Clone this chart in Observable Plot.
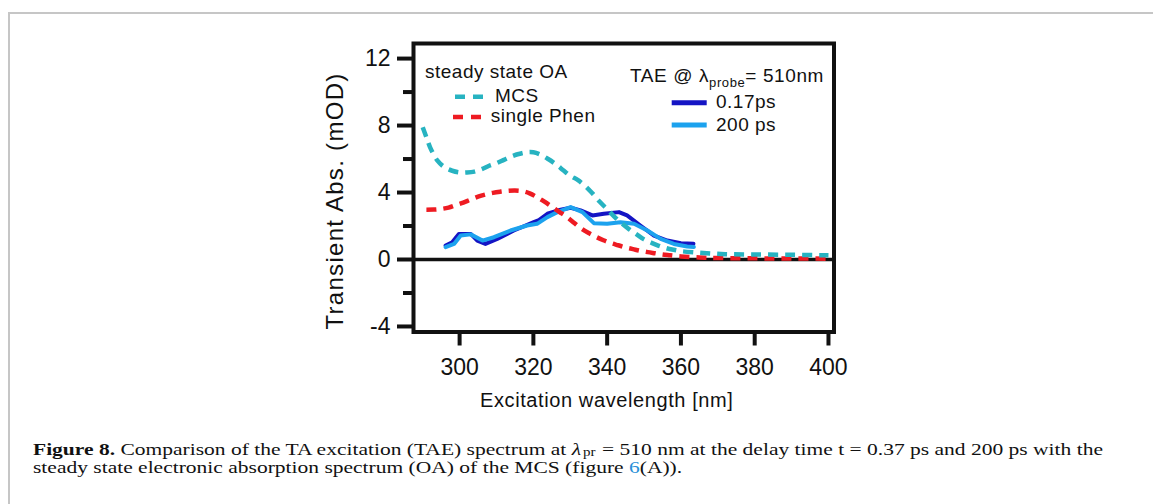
<!DOCTYPE html>
<html>
<head>
<meta charset="utf-8">
<script src="https://cdn.jsdelivr.net/npm/d3@7"></script>
<script src="https://cdn.jsdelivr.net/npm/@observablehq/plot@0.6"></script>
<style>
  html, body { margin: 0; padding: 0; background: #fff; }
  #wrap { position: relative; width: 1153px; height: 504px; overflow: hidden; background: #fff; }
  #border { position: absolute; z-index: 5; left: 8px; top: 12px; right: -4px; bottom: -4px; border-left: 2px solid #c6c6c6; border-top: 2px solid #c6c6c6; }
  #chart { position: absolute; left: 0; top: 0; }
  #legend { position: absolute; left: 0; top: 0; }
  .cap { position: absolute; left: 33px; font-family: "Liberation Serif", "Times New Roman", serif; font-size: 17px; color: #111; white-space: nowrap; transform: scale(1.265, 1); transform-origin: 0 0; }
  #cap1 { top: 441.3px; line-height: 18px; height: 18px; }
  #cap2 { top: 460.8px; line-height: 14px; height: 14px; }
  .cap .lam { font-style: italic; padding-right: 1.5px; }
  .cap .sub { font-size: 0.7em; position: relative; top: 0.1em; padding-right: 1px; }
  .cap .lnk { color: #2a8fd8; }
</style>
</head>
<body>
<div id="wrap">
  <div id="border"></div>
  <div id="chart"></div>
  <svg id="legend" width="1153" height="420" font-family="Liberation Sans, Arial, sans-serif" fill="#111">
    <text x="425" y="78" font-size="19" letter-spacing="0.5">steady state OA</text>
    <line x1="455" x2="483" y1="96.7" y2="96.7" stroke="#27b3c1" stroke-width="4.5" stroke-dasharray="10 8"/>
    <text x="495" y="102" font-size="19" letter-spacing="0.5">MCS</text>
    <line x1="453" x2="482" y1="117" y2="117" stroke="#ee1b22" stroke-width="4.5" stroke-dasharray="10 8"/>
    <text x="490.7" y="122" font-size="19" letter-spacing="0.5">single Phen</text>
    <text x="630" y="82" font-size="19" letter-spacing="0.6">TAE @ λ<tspan font-size="13" dy="5">probe</tspan><tspan dy="-5">= 510nm</tspan></text>
    <line x1="671.7" x2="706.7" y1="102.7" y2="102.7" stroke="#1414c4" stroke-width="5"/>
    <text x="716" y="108" font-size="19" letter-spacing="0.5">0.17ps</text>
    <line x1="671.7" x2="706.7" y1="125" y2="125" stroke="#1ca2ee" stroke-width="5"/>
    <text x="716" y="131" font-size="19" letter-spacing="0.5">200 ps</text>
    <text id="ytitle" transform="translate(335,201) rotate(-90)" text-anchor="middle" dy="0.35em" font-size="24" letter-spacing="1.3"></text>
  </svg>
  <div class="cap" id="cap1"><b>Figure 8.</b> Comparison of the TA excitation (TAE) spectrum at <span class="lam">λ</span><span class="sub">pr</span> = 510 nm at the delay time t = 0.37 ps and 200 ps with the</div>
  <div class="cap" id="cap2">steady state electronic absorption spectrum (OA) of the MCS (figure <span class="lnk">6</span>(A)).</div>
</div>
<script>
// ---- data ----
const mcsWl = [290,291,292,294,296,298,300,302,304,306,308,310,312,314,316,318,320,322,324,326,328,330,332,334,336,338,340,342,344,346,348,350,352,354,356,358,360,364,368,372,380,390,400];
const mcsAbs = [7.9,7.3,6.7,5.9,5.5,5.3,5.2,5.2,5.25,5.4,5.6,5.75,5.95,6.15,6.3,6.4,6.4,6.25,6.0,5.7,5.35,5.0,4.75,4.4,3.95,3.45,3.0,2.55,2.15,1.8,1.5,1.2,1.0,0.82,0.68,0.58,0.5,0.42,0.36,0.32,0.3,0.28,0.25];

const phenWl = [291,293,295,297,299,301,303,305,307,309,311,313,315,317,319,321,323,325,327,329,331,333,335,337,339,341,343,345,347,349,351,353,355,357,360,365,370,380,390,400];
const phenAbs = [2.97,2.98,3.02,3.1,3.25,3.4,3.58,3.75,3.88,3.98,4.05,4.1,4.12,4.08,3.95,3.72,3.45,3.15,2.85,2.55,2.2,1.85,1.58,1.35,1.15,0.98,0.85,0.72,0.62,0.52,0.44,0.37,0.3,0.25,0.18,0.12,0.09,0.07,0.06,0.05];

const tae017Wl = [296.2,298,299.8,303,304.8,307,310.2,314.7,320.1,321.5,323.8,327.4,330.1,332.8,336,339.1,343.2,345.4,349,352.7,356.3,360,363.4];
const tae017Abs = [0.84,1.03,1.53,1.53,1.13,0.93,1.23,1.73,2.23,2.35,2.73,2.97,3.09,2.93,2.63,2.73,2.83,2.63,2.03,1.43,1.13,0.97,0.94];

const tae200Wl = [296.2,298.5,300.3,303,306.2,309.3,313.8,318.3,321,323.8,326.5,330.1,333.3,336.4,340,343.6,347.3,350.9,354.5,358.1,361.7,363.5];
const tae200Abs = [0.74,0.93,1.43,1.5,1.13,1.33,1.73,2.03,2.13,2.53,2.83,3.13,2.83,2.17,2.13,2.23,2.13,1.73,1.23,0.93,0.78,0.74];

const xTicks = [300,320,340,360,380,400];
const yMajorTicks = [-4,0,4,8,12];
const yMinorTicks = [-2,2,6,10];

const xTitle = "Excitation wavelength [nm]";
const yTitle = "Transient Abs. (mOD)";

// ---- tables built from the arrays ----
const mcs = mcsWl.map((x, i) => ({x, y: mcsAbs[i]}));
const phen = phenWl.map((x, i) => ({x, y: phenAbs[i]}));
const t017 = tae017Wl.map((x, i) => ({x, y: tae017Abs[i]}));
const t200 = tae200Wl.map((x, i) => ({x, y: tae200Abs[i]}));

const chart = Plot.plot({
  width: 1153,
  height: 420,
  marginLeft: 413,
  marginRight: 319.5,
  marginTop: 43,
  marginBottom: 88.5,
  style: {fontFamily: "Liberation Sans, Arial, sans-serif", background: "transparent", color: "#111", overflow: "visible"},
  x: {domain: [287.5, 401.5]},
  y: {domain: [-4.33, 12.9]},
  marks: [
    Plot.axisX({ticks: xTicks, tickSize: 14, tickPadding: 13, fontSize: 23, strokeWidth: 4, label: null, tickFormat: d => String(d)}),
    Plot.axisY({ticks: yMajorTicks, tickSize: 16, tickPadding: 7, fontSize: 23, strokeWidth: 4, label: null, tickFormat: d => String(d)}),
    Plot.axisY({ticks: yMinorTicks, tickSize: 10, strokeWidth: 4, label: null, tickFormat: () => ""}),
    Plot.ruleY([0], {strokeWidth: 3.5, stroke: "#111"}),
    Plot.line(t017, {x: "x", y: "y", stroke: "#1414c4", strokeWidth: 4}),
    Plot.line(t200, {x: "x", y: "y", stroke: "#1ca2ee", strokeWidth: 4}),
    Plot.line(phen, {x: "x", y: "y", stroke: "#ee1b22", strokeWidth: 4.5, strokeDasharray: "10 7", strokeLinecap: "butt", curve: "catmull-rom"}),
    Plot.line(mcs, {x: "x", y: "y", stroke: "#27b3c1", strokeWidth: 4.5, strokeDasharray: "10 7", strokeLinecap: "butt", curve: "catmull-rom"}),
    Plot.frame({stroke: "#111", strokeWidth: 4}),
    Plot.text([xTitle], {frameAnchor: "bottom", dx: -17, dy: 75, fontSize: 20, text: d => d})
  ]
});
document.getElementById("chart").appendChild(chart);
chart.querySelectorAll("text").forEach(t => {
  if (t.textContent === xTitle) t.setAttribute("letter-spacing", "0.6");
});
document.getElementById("ytitle").textContent = yTitle;
</script>
</body>
</html>
